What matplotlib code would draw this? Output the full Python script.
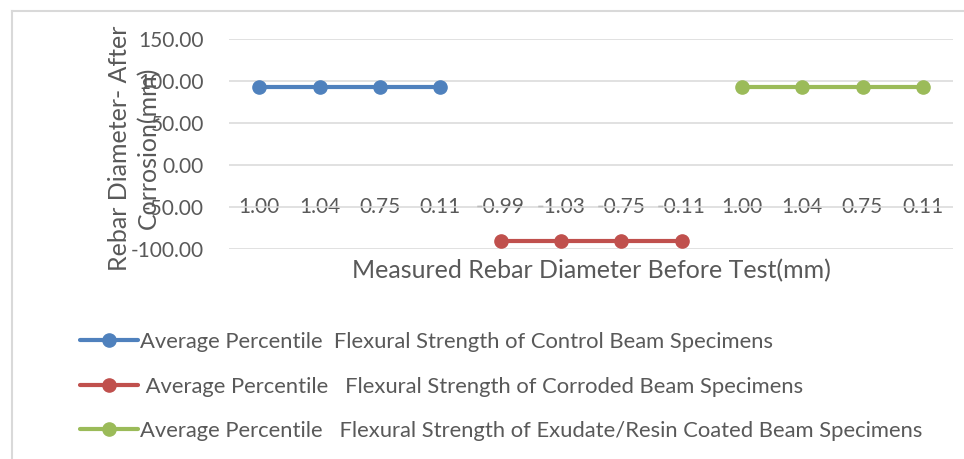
import matplotlib
matplotlib.use("Agg")

import matplotlib.pyplot as plt
import numpy as np
from matplotlib.lines import Line2D

plt.rcParams.update({
    "font.family": ["Lato", "DejaVu Sans"],
    "text.color": "#595959",
    "xtick.color": "#595959",
    "ytick.color": "#595959",
})

BLUE = "#4F81BD"
RED = "#C0504D"
GREEN = "#9BBB59"
GRID = "#D9D9D9"

categories = ["1.00", "1.04", "0.75", "0.11",
              "-0.99", "-1.03", "-0.75", "-0.11",
              "1.00", "1.04", "0.75", "0.11"]
nan = np.nan
control = [93, 93, 93, 93, nan, nan, nan, nan, nan, nan, nan, nan]
corroded = [nan, nan, nan, nan, -90, -90, -90, -90, nan, nan, nan, nan]
coated = [nan, nan, nan, nan, nan, nan, nan, nan, 93, 93, 93, 93]
y_ticks = [-100, -50, 0, 50, 100, 150]

labels = [
    "Average Percentile  Flexural Strength of Control Beam Specimens",
    " Average Percentile   Flexural Strength of Corroded Beam Specimens",
    "Average Percentile   Flexural Strength of Exudate/Resin Coated Beam Specimens",
]

W, H = 964, 459
fig = plt.figure(figsize=(W / 100, H / 100), dpi=100)
ax = fig.add_axes([229 / W, (H - 249) / H, (953 - 229) / W, (249 - 39) / H])

x = np.arange(len(categories))
style = dict(linewidth=3, marker="o", markersize=9.5, solid_capstyle="round")
ax.plot(x, control, color=BLUE, label=labels[0], **style)
ax.plot(x, corroded, color=RED, label=labels[1], **style)
ax.plot(x, coated, color=GREEN, label=labels[2], **style)

ax.set_xlim(-0.5, len(categories) - 0.5)
ax.set_ylim(-100, 150)
ax.set_yticks(y_ticks)
ax.set_yticklabels([f"{v:.2f}" for v in y_ticks])
ax.grid(axis="y", color=GRID, linewidth=1.1)
ax.set_axisbelow(True)
for s in ["top", "right", "left"]:
    ax.spines[s].set_visible(False)
ax.spines["bottom"].set_position(("data", -50))
ax.spines["bottom"].set_visible(False)
ax.set_xticks(x)
ax.set_xticklabels(categories)
ax.tick_params(axis="x", length=0, pad=-7.5, labelsize=15)
ax.tick_params(axis="y", length=0, pad=18, labelsize=15)

fig.text(591 / W, (H - 271) / H, "Measured Rebar Diameter Before Test(mm)",
         ha="center", va="center", fontsize=18)
fig.text(134 / W, (H - 148) / H, "Rebar Diameter- After\nCorrosion(mm)",
         ha="center", va="center", rotation=90, fontsize=18,
         multialignment="center", linespacing=1.3)

fig.legend(loc="upper left", bbox_to_anchor=(80 / W, (H - 332) / H),
           frameon=False, fontsize=15.8, handlelength=2.65, handletextpad=0.1,
           labelspacing=1.12, borderpad=0, borderaxespad=0)

# outer chart frame (top and left edges only visible in the crop)
fig.add_artist(Line2D([12 / W, 1], [(H - 11) / H] * 2, color="#D9D9D9", linewidth=1.5))
fig.add_artist(Line2D([12 / W] * 2, [0, (H - 11) / H], color="#D9D9D9", linewidth=1.5))

fig.savefig("out.png", dpi=100)
